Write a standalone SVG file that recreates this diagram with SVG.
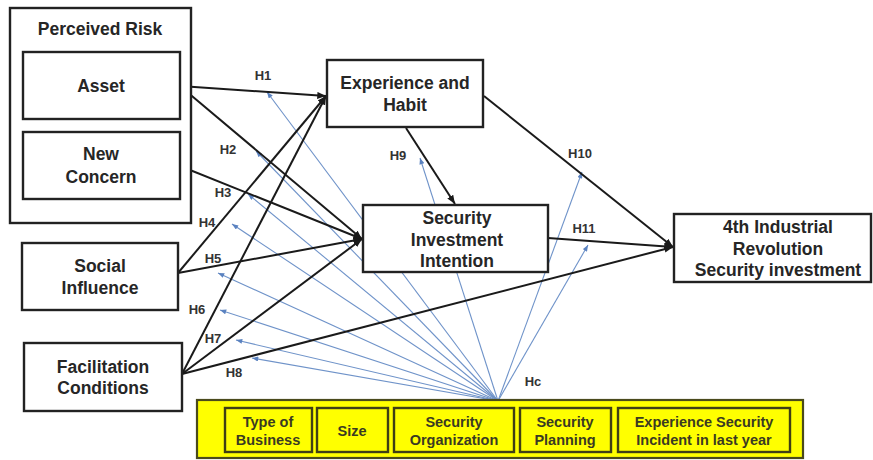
<svg xmlns="http://www.w3.org/2000/svg" width="873" height="460" viewBox="0 0 873 460">
  <style>
    .box { fill: #ffffff; stroke: #222222; stroke-width: 2.4; }
    .node-text { font-family: "Liberation Sans", Arial, sans-serif; font-size: 17.5px; font-weight: bold; fill: #262626; text-anchor: middle; }
    .hyp { font-family: "Liberation Sans", Arial, sans-serif; font-size: 13px; font-weight: bold; fill: #333333; text-anchor: middle; }
    .path-line { stroke: #1a1a1a; stroke-width: 2; fill: none; marker-end: url(#arrow-black); }
    .ctrl-line { stroke: #6f93c9; stroke-width: 1.1; fill: none; marker-end: url(#arrow-blue); }
    .ctrl-panel { fill: #ffff00; stroke: #4a4a1c; stroke-width: 2.2; }
    .ctrl-box { fill: #ffff00; stroke: #3f3f15; stroke-width: 2.4; }
    .ctrl-text { font-family: "Liberation Sans", Arial, sans-serif; font-size: 14.5px; font-weight: bold; fill: #3a3a22; text-anchor: middle; }
  </style>
  <defs>
    <marker id="arrow-black" viewBox="0 0 10 8" refX="10" refY="4" markerWidth="9" markerHeight="7" markerUnits="userSpaceOnUse" orient="auto">
      <path d="M0,0 L10,4 L0,8 z" fill="#1a1a1a"/>
    </marker>
    <marker id="arrow-blue" viewBox="0 0 10 8" refX="10" refY="4" markerWidth="7" markerHeight="5" markerUnits="userSpaceOnUse" orient="auto">
      <path d="M0,0 L10,4 L0,8 z" fill="#5a82c0"/>
    </marker>
  </defs>

  <rect width="873" height="460" fill="#ffffff"/>

  <!-- control variable influences -->
  <g id="control-connectors">
    <line class="ctrl-line" x1="498" y1="401" x2="267" y2="92"/>
    <line class="ctrl-line" x1="498" y1="401" x2="256" y2="151"/>
    <line class="ctrl-line" x1="498" y1="401" x2="248" y2="194"/>
    <line class="ctrl-line" x1="498" y1="401" x2="232" y2="224"/>
    <line class="ctrl-line" x1="498" y1="401" x2="218" y2="273"/>
    <line class="ctrl-line" x1="498" y1="401" x2="220" y2="310"/>
    <line class="ctrl-line" x1="498" y1="401" x2="236" y2="340"/>
    <line class="ctrl-line" x1="498" y1="401" x2="252" y2="358"/>
    <line class="ctrl-line" x1="498" y1="401" x2="420" y2="158"/>
    <line class="ctrl-line" x1="498" y1="401" x2="582" y2="172"/>
    <line class="ctrl-line" x1="498" y1="401" x2="588" y2="245"/>
  </g>

  <!-- hypothesis paths -->
  <g id="connectors">
    <line class="path-line" x1="180" y1="86" x2="326" y2="96"/>
    <line class="path-line" x1="180" y1="86" x2="362" y2="239"/>
    <line class="path-line" x1="180" y1="166" x2="362" y2="239"/>
    <line class="path-line" x1="178" y1="273" x2="326" y2="96"/>
    <line class="path-line" x1="178" y1="273" x2="362" y2="239"/>
    <line class="path-line" x1="182" y1="374" x2="326" y2="96"/>
    <line class="path-line" x1="182" y1="374" x2="362" y2="239"/>
    <line class="path-line" x1="182" y1="374" x2="673" y2="247"/>
    <line class="path-line" x1="406" y1="128" x2="455" y2="204"/>
    <line class="path-line" x1="484" y1="96" x2="673" y2="247"/>
    <line class="path-line" x1="548" y1="238" x2="673" y2="247"/>
  </g>

  <g id="hypothesis-labels">
    <text class="hyp" x="263" y="80">H1</text>
    <text class="hyp" x="228" y="154">H2</text>
    <text class="hyp" x="223" y="197">H3</text>
    <text class="hyp" x="207" y="227">H4</text>
    <text class="hyp" x="213" y="263">H5</text>
    <text class="hyp" x="197" y="314">H6</text>
    <text class="hyp" x="213" y="343">H7</text>
    <text class="hyp" x="234" y="377">H8</text>
    <text class="hyp" x="398" y="160">H9</text>
    <text class="hyp" x="580" y="158">H10</text>
    <text class="hyp" x="584" y="233">H11</text>
    <text class="hyp" x="533" y="386">Hc</text>
  </g>

  <g id="perceived-risk">
    <rect class="box" x="10" y="8" width="181" height="215"/>
    <text class="node-text" x="100" y="35" font-size="16.5">Perceived Risk</text>
  </g>

  <g id="asset">
    <rect class="box" x="23" y="52" width="157" height="67"/>
    <text class="node-text" x="101" y="92">Asset</text>
  </g>

  <g id="new-concern">
    <rect class="box" x="23" y="132" width="157" height="67"/>
    <text class="node-text" x="101" y="160">New</text>
    <text class="node-text" x="101" y="183">Concern</text>
  </g>

  <g id="social-influence">
    <rect class="box" x="22" y="243" width="156" height="67"/>
    <text class="node-text" x="100" y="272">Social</text>
    <text class="node-text" x="100" y="294">Influence</text>
  </g>

  <g id="facilitation-conditions">
    <rect class="box" x="24" y="343" width="158" height="68"/>
    <text class="node-text" x="103" y="373">Facilitation</text>
    <text class="node-text" x="103" y="394">Conditions</text>
  </g>

  <g id="experience-habit">
    <rect class="box" x="327" y="60" width="156" height="67"/>
    <text class="node-text" x="405" y="89">Experience and</text>
    <text class="node-text" x="405" y="111">Habit</text>
  </g>

  <g id="security-investment-intention">
    <rect class="box" x="363" y="205" width="185" height="67"/>
    <text class="node-text" x="457" y="224">Security</text>
    <text class="node-text" x="457" y="246">Investment</text>
    <text class="node-text" x="457" y="267">Intention</text>
  </g>

  <g id="industrial-security-investment">
    <rect class="box" x="674" y="214" width="197" height="68"/>
    <text class="node-text" x="778" y="233">4th Industrial</text>
    <text class="node-text" x="778" y="255">Revolution</text>
    <text class="node-text" x="778" y="276">Security investment</text>
  </g>

  <g id="control-variables">
    <rect class="ctrl-panel" x="197" y="400" width="606" height="58"/>
    <g id="type-of-business">
      <rect class="ctrl-box" x="225" y="408" width="87" height="44"/>
      <text class="ctrl-text" x="268" y="427">Type of</text>
      <text class="ctrl-text" x="268" y="445">Business</text>
    </g>
    <g id="size">
      <rect class="ctrl-box" x="317" y="408" width="71" height="44"/>
      <text class="ctrl-text" x="352" y="436">Size</text>
    </g>
    <g id="security-organization">
      <rect class="ctrl-box" x="394" y="408" width="120" height="44"/>
      <text class="ctrl-text" x="454" y="427">Security</text>
      <text class="ctrl-text" x="454" y="445">Organization</text>
    </g>
    <g id="security-planning">
      <rect class="ctrl-box" x="520" y="408" width="91" height="44"/>
      <text class="ctrl-text" x="565" y="427">Security</text>
      <text class="ctrl-text" x="565" y="445">Planning</text>
    </g>
    <g id="security-incident">
      <rect class="ctrl-box" x="618" y="408" width="172" height="44"/>
      <text class="ctrl-text" x="704" y="427">Experience Security</text>
      <text class="ctrl-text" x="704" y="445">Incident in last year</text>
    </g>
  </g>
</svg>
